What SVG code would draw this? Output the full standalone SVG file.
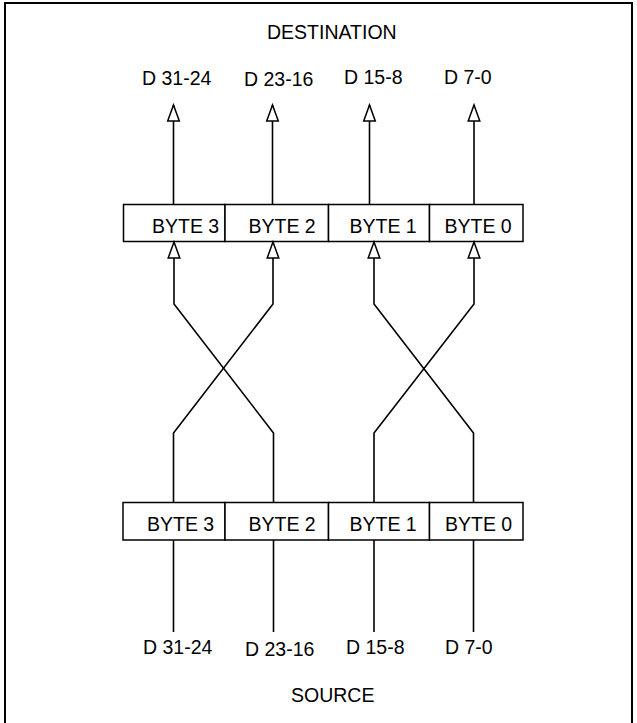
<svg xmlns="http://www.w3.org/2000/svg" width="637" height="723" viewBox="0 0 637 723">
<style>
text{font-family:"Liberation Sans",Arial,sans-serif;font-size:19.5px;fill:#000}
.box{fill:#fff;stroke:#000;stroke-width:1.5}
.ln{fill:none;stroke:#000;stroke-width:1.6}
.frame{fill:none;stroke:#000;stroke-width:2}
</style>
<defs>
<marker id="arr" markerUnits="userSpaceOnUse" viewBox="-2 -8 20 16" refX="16" refY="0" markerWidth="20" markerHeight="16" orient="auto" overflow="visible">
<path d="M0,-5.8 L16,0 L0,5.8 Z" fill="#fff" stroke="#000" stroke-width="1.5"/>
</marker>
</defs>
<rect width="637" height="723" fill="#fff"/>
<path class="frame" d="M5,723 V3 H632 V723"/>
<g id="title-dest"><text x="267" y="39">DESTINATION</text></g>
<g id="title-src"><text x="291" y="702">SOURCE</text></g>
<g id="dst-labels">
<text x="142" y="85">D 31-24</text>
<text x="244" y="86">D 23-16</text>
<text x="344" y="84">D 15-8</text>
<text x="444" y="84">D 7-0</text>
</g>
<g id="src-labels">
<text x="143" y="654">D 31-24</text>
<text x="245" y="656">D 23-16</text>
<text x="346" y="654">D 15-8</text>
<text x="445" y="654">D 7-0</text>
</g>
<g id="dest-reg">
<g id="d-byte3"><rect class="box" x="123.5" y="204.5" width="101.5" height="37"/><text x="152" y="233">BYTE 3</text></g>
<g id="d-byte2"><rect class="box" x="225" y="204.5" width="103.5" height="37"/><text x="248.5" y="233">BYTE 2</text></g>
<g id="d-byte1"><rect class="box" x="328.5" y="204.5" width="101" height="37"/><text x="349.5" y="233">BYTE 1</text></g>
<g id="d-byte0"><rect class="box" x="429.5" y="204.5" width="93.5" height="37"/><text x="444.5" y="233">BYTE 0</text></g>
</g>
<g id="src-reg">
<g id="s-byte3"><rect class="box" x="123" y="502.5" width="102" height="37.5"/><text x="147" y="530.5">BYTE 3</text></g>
<g id="s-byte2"><rect class="box" x="225" y="502.5" width="103.5" height="37.5"/><text x="248.5" y="530.5">BYTE 2</text></g>
<g id="s-byte1"><rect class="box" x="328.5" y="502.5" width="101" height="37.5"/><text x="349.5" y="530.5">BYTE 1</text></g>
<g id="s-byte0"><rect class="box" x="429.5" y="502.5" width="93.5" height="37.5"/><text x="445" y="530.5">BYTE 0</text></g>
</g>
<g id="connectors">
<path class="ln" d="M173.5,204.5 V105" marker-end="url(#arr)"/>
<path class="ln" d="M272.5,204.5 V105" marker-end="url(#arr)"/>
<path class="ln" d="M369.5,204.5 V105" marker-end="url(#arr)"/>
<path class="ln" d="M474,204.5 V105" marker-end="url(#arr)"/>
<path class="ln" d="M173.5,502.5 V433 L273,304 V242" marker-end="url(#arr)"/>
<path class="ln" d="M273.5,502.5 V433 L174,304 V242" marker-end="url(#arr)"/>
<path class="ln" d="M374,502.5 V433 L474,304 V242" marker-end="url(#arr)"/>
<path class="ln" d="M473.5,502.5 V433 L374,304 V242" marker-end="url(#arr)"/>
<path class="ln" d="M173.5,540 V632"/>
<path class="ln" d="M273.5,540 V632"/>
<path class="ln" d="M374,540 V632"/>
<path class="ln" d="M473.5,540 V632"/>
</g>
</svg>
